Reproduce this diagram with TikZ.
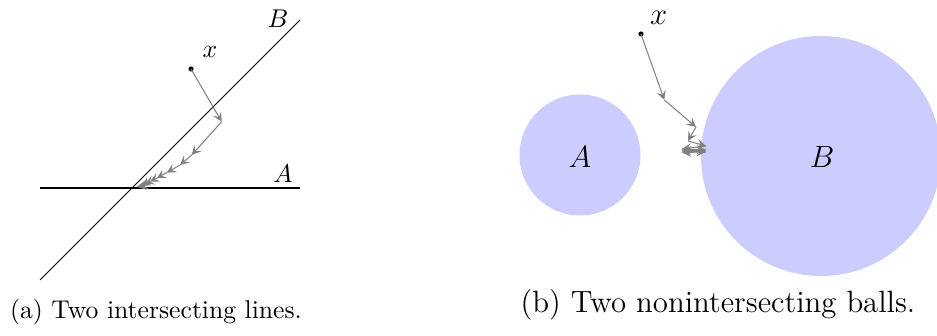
\documentclass[tikz,border=0pt]{standalone}
\usepackage{amsmath}
\usetikzlibrary{arrows.meta}

\begin{document}
\begin{tikzpicture}[x=0.0137cm, y=-0.0137cm, >={Stealth[length=3.6pt, width=3.6pt, inset=1.5pt]},
  iter/.style={->, gray},
  ball/.style={fill=blue!20},
  pt/.style={circle, fill=black, inner sep=0pt, minimum size=2pt}]
\useasboundingbox (0,0) rectangle (937,336);
% (a) two lines
\draw (40,188) -- (300,188);
\draw (40,280) -- (300,20);
\node at (283,174) {$A$};\node at (278,19) {$B$};
\node[pt] (xa) at (191,69) {};\node[above right=1pt] at (xa) {$x$};
\coordinate (a0) at (xa);
\foreach \i/\u/\v in {1/221.7/121.7, 2/191.7/155, 3/180/165, 4/166.7/172.7, 5/156.7/178.3, 6/150/181.7, 7/145/184, 8/141.7/186, 9/138.8/186.6, 10/136.8/187}
  \coordinate (a\i) at (\u,\v);
\foreach \i [remember=\i as \j (initially 0)] in {1,...,10}
  \draw[iter] (a\j) -- (a\i);
\node at (156,312) {(a) Two intersecting lines.};
% (b) two balls
\fill[ball] (580,155) circle [radius=60.5];
\fill[ball] (821,156) circle [radius=120];
\node[font=\large] at (580,157) {$A$};\node[font=\large] at (822,157) {$B$};
\node[pt] (xb) at (641,34) {};\node[above right=0pt, font=\large] at (xb) {$x$};
\coordinate (b0) at (xb);
\foreach \i/\u/\v in {1/664.3/100, 2/696/127, 3/688/141, 4/706/146, 5/682/149, 6/706/150, 7/682/151, 8/706/152, 9/682/152.5}
  \coordinate (b\i) at (\u,\v);
\foreach \i [remember=\i as \j (initially 0)] in {1,...,9}
  \draw[iter] (b\j) -- (b\i);
\node[font=\large] at (718,305) {(b) Two nonintersecting balls.};
\end{tikzpicture}
\end{document}
